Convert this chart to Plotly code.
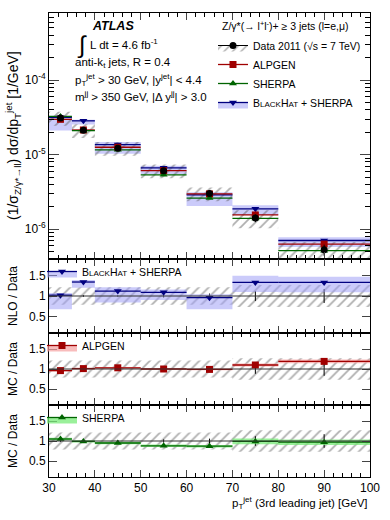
import plotly.graph_objects as go
from plotly.subplots import make_subplots

# bins of the 3rd leading jet pT [GeV]
bin_lo = [30, 35, 40, 50, 60, 70, 80]
bin_hi = [35, 40, 50, 60, 70, 80, 100]

# measured cross section [1/GeV] with relative uncertainties
data_xs = [3.1e-5, 2.12e-5, 1.22e-5, 6.1e-6, 3.0e-6, 1.41e-6, 5.3e-7]
data_stat = [0.02, 0.02, 0.02, 0.04, 0.06, 0.12, 0.17]
data_syst = [0.21, 0.21, 0.21, 0.21, 0.21, 0.27, 0.27]

# predictions / data
alpgen_ratio = [0.96, 1.01, 1.03, 1.00, 0.99, 1.10, 1.19]
alpgen_err = [0.02, 0.02, 0.02, 0.02, 0.02, 0.04, 0.045]
sherpa_ratio = [1.05, 0.99, 0.95, 0.88, 0.87, 0.99, 0.97]
sherpa_err = [0.03, 0.03, 0.03, 0.03, 0.03, 0.07, 0.07]
bh_ratio = [1.02, 1.34, 1.12, 1.09, 0.96, 1.33, 1.33]
bh_lo = [0.68, 1.20, 0.84, 0.90, 0.68, 1.10, 1.09]
bh_hi = [1.07, 1.39, 1.21, 1.16, 1.04, 1.49, 1.47]

FONT = "Liberation Sans"
RED, RED_BAND = "#a00000", "rgba(245,160,160,0.7)"
GREEN, GREEN_BAND = "#006400", "rgba(120,235,120,0.75)"
BLUE, BLUE_BAND = "#000080", "rgba(160,160,245,0.55)"
HATCH = dict(shape="/", fgcolor="#5e5e5e", bgcolor="rgba(0,0,0,0)", size=7, solidity=0.25)
MS = 7

centers = [(a + b) / 2 for a, b in zip(bin_lo, bin_hi)]


def steps(y):
    xs, ys = [], []
    for a, b, v in zip(bin_lo, bin_hi, y):
        xs += [a, b, None]
        ys += [v, v, None]
    return xs, ys


def boxes(dn, up):
    xs, ys = [], []
    for a, b, d, u in zip(bin_lo, bin_hi, dn, up):
        xs += [a, b, b, a, a, None]
        ys += [d, d, u, u, d, None]
    return xs, ys


fig = make_subplots(rows=4, cols=1, shared_xaxes=True, vertical_spacing=0,
                    row_heights=[246, 74, 72, 72])

# ---------------- main panel ----------------
alpgen_xs = [d * r for d, r in zip(data_xs, alpgen_ratio)]
sherpa_xs = [d * r for d, r in zip(data_xs, sherpa_ratio)]
bh_xs = [d * r for d, r in zip(data_xs, bh_ratio)]

bx, by = boxes([d * r for d, r in zip(data_xs, bh_lo)], [d * r for d, r in zip(data_xs, bh_hi)])
fig.add_trace(go.Scatter(x=bx, y=by, fill="toself", fillcolor=BLUE_BAND, mode="lines",
                         line=dict(width=0), showlegend=False, hoverinfo="skip"), 1, 1)
hx, hy = boxes([d * (1 - s) for d, s in zip(data_xs, data_syst)],
               [d * (1 + s) for d, s in zip(data_xs, data_syst)])
fig.add_trace(go.Scatter(x=hx, y=hy, fill="toself", fillcolor="rgba(0,0,0,0)", fillpattern=HATCH,
                         mode="lines", line=dict(width=0), showlegend=False, hoverinfo="skip"), 1, 1)

models = [(bh_xs, BLUE, "triangle-down"), (alpgen_xs, RED, "square"), (sherpa_xs, GREEN, "triangle-up")]
for vals, col, sym in models:
    sx, sy = steps(vals)
    fig.add_trace(go.Scatter(x=sx, y=sy, mode="lines", line=dict(color=col, width=1.3),
                             showlegend=False), 1, 1)
for vals, col, sym in models:
    fig.add_trace(go.Scatter(x=centers, y=vals, mode="markers",
                             marker=dict(color=col, symbol=sym, size=MS), showlegend=False), 1, 1)

fig.add_trace(go.Scatter(x=centers, y=data_xs, mode="markers",
                         marker=dict(color="black", symbol="circle", size=MS),
                         error_y=dict(type="data", array=[d * s for d, s in zip(data_xs, data_stat)],
                                      color="black", thickness=1, width=0),
                         showlegend=False), 1, 1)

# legend entries of the main panel
fig.add_trace(go.Scatter(x=[None], y=[None], name="Data 2011 (√s = 7 TeV)", mode="lines+markers",
                         fill="toself", fillcolor="white",
                         fillpattern=dict(shape="/", fgcolor="#5e5e5e", bgcolor="white", size=6, solidity=0.25),
                         line=dict(color="black", width=1), marker=dict(color="black", size=MS),
                         legend="legend"), 1, 1)
fig.add_trace(go.Scatter(x=[None], y=[None], name="ALPGEN", mode="lines+markers",
                         line=dict(color=RED, width=1.3), marker=dict(color=RED, symbol="square", size=MS),
                         legend="legend"), 1, 1)
fig.add_trace(go.Scatter(x=[None], y=[None], name="SHERPA", mode="lines+markers",
                         line=dict(color=GREEN, width=1.3),
                         marker=dict(color=GREEN, symbol="triangle-up", size=MS), legend="legend"), 1, 1)
BH_NAME = "B<span style='font-size:8px'>LACK</span>H<span style='font-size:8px'>AT</span> + SHERPA"
fig.add_trace(go.Scatter(x=[None], y=[None], name=BH_NAME, mode="lines+markers",
                         fill="toself", fillcolor=BLUE_BAND, line=dict(color=BLUE, width=1.3),
                         marker=dict(color=BLUE, symbol="triangle-down", size=MS), legend="legend"), 1, 1)

# ---------------- ratio panels ----------------
panels = [
    (2, bh_ratio, bh_lo, bh_hi, BLUE, BLUE_BAND, "triangle-down", BH_NAME, "legend2"),
    (3, alpgen_ratio, [r - e for r, e in zip(alpgen_ratio, alpgen_err)],
     [r + e for r, e in zip(alpgen_ratio, alpgen_err)], RED, RED_BAND, "square", "ALPGEN", "legend3"),
    (4, sherpa_ratio, [r - e for r, e in zip(sherpa_ratio, sherpa_err)],
     [r + e for r, e in zip(sherpa_ratio, sherpa_err)], GREEN, GREEN_BAND, "triangle-up", "SHERPA", "legend4"),
]
for row, ratio, lo, hi, col, band, sym, name, leg in panels:
    hx, hy = boxes([1 - s for s in data_syst], [1 + s for s in data_syst])
    fig.add_trace(go.Scatter(x=hx, y=hy, fill="toself", fillcolor="rgba(0,0,0,0)", fillpattern=HATCH,
                             mode="lines", line=dict(width=0), showlegend=False, hoverinfo="skip"), row, 1)
    fig.add_hline(y=1, line=dict(color="#333333", width=1), row=row, col=1)
    fig.add_trace(go.Scatter(x=centers, y=[1] * len(centers), mode="markers",
                             marker=dict(size=1, color="rgba(0,0,0,0)"),
                             error_y=dict(type="data", array=data_stat, color="black", thickness=1, width=0),
                             showlegend=False), row, 1)
    bx, by = boxes(lo, hi)
    fig.add_trace(go.Scatter(x=bx, y=by, fill="toself", fillcolor=band, mode="lines",
                             line=dict(width=0), showlegend=False, hoverinfo="skip"), row, 1)
    sx, sy = steps(ratio)
    fig.add_trace(go.Scatter(x=sx, y=sy, mode="lines", line=dict(color=col, width=1.3),
                             showlegend=False), row, 1)
    fig.add_trace(go.Scatter(x=centers, y=ratio, mode="markers",
                             marker=dict(color=col, symbol=sym, size=MS), showlegend=False), row, 1)
    fig.add_trace(go.Scatter(x=[None], y=[None], name=name, mode="lines+markers",
                             fill="toself", fillcolor=band, line=dict(color=col, width=1.3),
                             marker=dict(color=col, symbol=sym, size=MS), legend=leg), row, 1)

# ---------------- axes ----------------
axis_common = dict(showline=True, linecolor="black", linewidth=1, mirror="ticks", ticks="inside",
                   showgrid=False, zeroline=False, tickfont=dict(family=FONT, size=12, color="black"))
fig.update_xaxes(range=[30, 100], dtick=10, ticklen=7,
                 minor=dict(dtick=2, ticks="inside", ticklen=4, tickcolor="black"), **axis_common)
minor_vals = [k * 10.0 ** e for e in range(-7, -3) for k in range(2, 10)]
fig.update_yaxes(type="log", range=[-6.40, -3.10], tickvals=[1e-6, 1e-5, 1e-4],
                 ticktext=["10<sup>-6</sup>", "10<sup>-5</sup>", "10<sup>-4</sup>"], ticklen=10,
                 minor=dict(tickvals=minor_vals, ticks="inside", ticklen=5, tickcolor="black"),
                 row=1, col=1, **axis_common)
for row in (2, 3, 4):
    fig.update_yaxes(range=[0.1, 1.9], tickvals=[0.5, 1, 1.5], ticktext=["0.5", "1", "1.5"],
                     ticklen=8, row=row, col=1, **axis_common)

# ---------------- text ----------------
L, R, T, B = 49, 20, 13, 43
PW, PH = 390 - L - R, 520 - T - B


def px(x):
    return (x - L) / PW


def py(y):
    return 1 - (y - T) / PH


def note(x, y, text, size=11.5, xanchor="left", angle=0, **kw):
    fig.add_annotation(x=px(x), y=py(y), xref="paper", yref="paper", text=text, showarrow=False,
                       xanchor=xanchor, yanchor="middle", textangle=angle,
                       font=dict(family=FONT, size=size, color="black"), **kw)


note(90, 26, "<b><i>ATLAS</i></b>", size=12.5)
note(75, 45, "∫", size=24)
note(88, 44, "L dt = 4.6 fb<sup>-1</sup>")
note(73, 63, "anti-k<sub>t</sub> jets, R = 0.4")
note(73, 80, "p<sub>T</sub><sup>jet</sup> > 30 GeV, |y<sup>jet</sup>| < 4.4")
note(73, 96, "m<sup>jj</sup> > 350 GeV, |Δ y<sup>jj</sup>| > 3.0")
note(220, 25, "Z/γ*(→ l<sup>+</sup>l<sup>-</sup>)+ ≥ 3 jets (l=e,μ)", size=10.5)
note(13, 136, "(1/σ<sub>Z/γ*→ll</sub>) dσ/dp<sub>T</sub><sup>jet</sup> [1/GeV]", size=14,
     xanchor="center", angle=-90)
note(13, 296, "NLO / Data", size=12, xanchor="center", angle=-90)
note(13, 369, "MC / Data", size=12, xanchor="center", angle=-90)
note(13, 441, "MC / Data", size=12, xanchor="center", angle=-90)
note(370, 503, "p<sub>T</sub><sup>jet</sup> (3rd leading jet) [GeV]", size=11.5, xanchor="right")

leg_common = dict(xref="paper", yref="paper", xanchor="left", yanchor="top", bgcolor="rgba(0,0,0,0)",
                  font=dict(family=FONT, size=10.5, color="black"), itemwidth=30, borderwidth=0)
fig.update_layout(
    legend=dict(x=px(213), y=py(31), **leg_common),
    legend2=dict(x=px(42), y=py(257), **leg_common),
    legend3=dict(x=px(42), y=py(331), **leg_common),
    legend4=dict(x=px(42), y=py(403), **leg_common),
    width=390, height=520, margin=dict(l=L, r=R, t=T, b=B, autoexpand=False),
    paper_bgcolor="white", plot_bgcolor="white", font=dict(family=FONT, color="black"),
)

fig.write_html("out.html", config={"displayModeBar": False},
               post_script="document.body.style.margin='0';")
